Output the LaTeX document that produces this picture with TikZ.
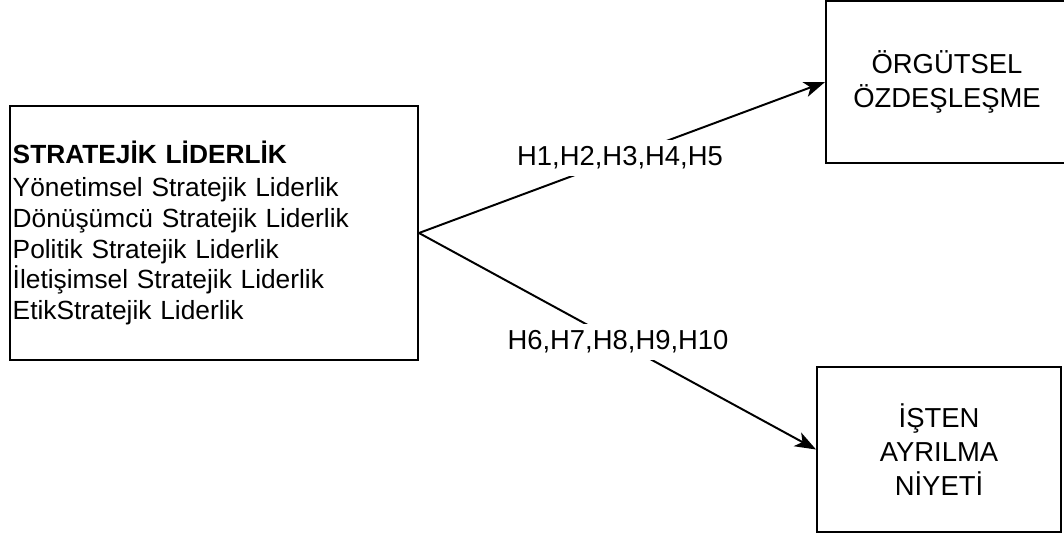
\documentclass[tikz,border=0pt]{standalone}
\usepackage{fontspec}
\setmainfont{Liberation Sans}
\usetikzlibrary{arrows.meta}
\tikzset{
  kutu/.style={draw,line width=1.3pt,inner sep=0pt,align=center,font=\fontsize{19.5}{24}\selectfont},
  ok/.style={line width=1.4pt,-{Stealth[length=15pt,width=11pt,inset=4pt]}},
  etiket/.style={fill=white,inner xsep=1pt,inner ysep=4.5pt,font=\fontsize{19.5}{22}\selectfont}
}
\begin{document}
\begin{tikzpicture}[x=0.025cm,y=-0.025cm]
        \useasboundingbox (0,0) rectangle (1064,533);
        \node[draw,line width=1.3pt,inner xsep=2pt,inner ysep=0pt,text width=10.06cm,minimum height=6.35cm,align=left,font=\fontsize{18.7}{22}\selectfont] (lider) at (214,233) {\textbf{STRATEJİK LİDERLİK}\\[1.5pt]Yönetimsel Stratejik Liderlik\\Dönüşümcü Stratejik Liderlik\\Politik Stratejik Liderlik\\İletişimsel Stratejik Liderlik\\EtikStratejik Liderlik};
        \node[kutu,minimum width=6.05cm,minimum height=4.05cm] (orgut) at (947,82) {ÖRGÜTSEL\\ÖZDEŞLEŞME};
        \node[kutu,minimum width=6.1cm,minimum height=4.125cm] (ayril) at (939,449.5) {İŞTEN\\AYRILMA\\NİYETİ};
        \draw[ok] (lider.east) -- (orgut.west);
        \draw[ok] (lider.east) -- (ayril.west);
        \node[etiket] (h1) at (620,158) {H1,H2,H3,H4,H5};
        \node[etiket] (h6) at (618,342) {H6,H7,H8,H9,H10};
\end{tikzpicture}
\end{document}
